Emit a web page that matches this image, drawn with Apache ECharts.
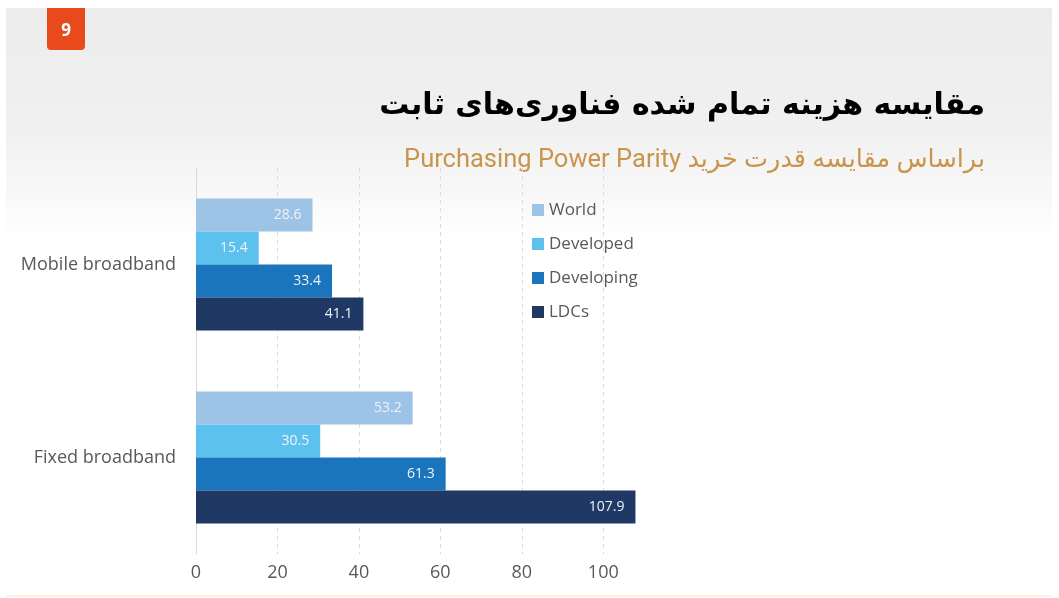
<!DOCTYPE html>
<html>
<head>
<meta charset="utf-8">
<script src="https://cdn.jsdelivr.net/npm/echarts@6/dist/echarts.min.js"></script>
<style>
  html, body { margin: 0; padding: 0; background: #ffffff; }
  #chart { width: 1059px; height: 598px; }
</style>
</head>
<body>
<div id="chart"></div>
<script>
// Cost of broadband, PPP-based comparison
const categories = ['Fixed broadband', 'Mobile broadband'];      // bottom to top
const seriesNames = ['World', 'Developed', 'Developing', 'LDCs'];
const worldValues      = [53.2, 28.6];
const developedValues  = [30.5, 15.4];
const developingValues = [61.3, 33.4];
const ldcValues        = [107.9, 41.1];
const xTicks = [0, 20, 40, 60, 80, 100];

const titleText = 'مقایسه هزینه تمام شده فناوری‌های ثابت';
const subtitleText = 'Purchasing Power Parity براساس مقایسه قدرت خرید';
const pageNumber = '9';

const colors = ['#9DC3E6', '#5DC1EE', '#1B75BC', '#1F3864'];
const valuesBySeries = [worldValues, developedValues, developingValues, ldcValues];

const chart = echarts.init(document.getElementById('chart'), null, { renderer: 'canvas' });

const latin = '"Open Sans", "Liberation Sans", sans-serif';
const persian = '"DejaVu Sans", "Noto Sans", sans-serif';
const subFont = 'Roboto, "DejaVu Sans", sans-serif';

const series = seriesNames.map((name, i) => ({
  name,
  type: 'bar',
  data: valuesBySeries[i],
  barWidth: 33,
  barGap: '0%',
  itemStyle: { color: colors[i] },
  label: {
    show: true,
    position: 'insideRight',
    distance: 11,
    color: '#EEF3FA',
    fontSize: 14,
    fontFamily: latin
  }
}));

chart.setOption({
  backgroundColor: '#ffffff',
  animation: false,
  graphic: [
    {
      type: 'rect',
      z: -10,
      shape: { x: 6, y: 8, width: 1046, height: 232 },
      style: {
        fill: new echarts.graphic.LinearGradient(0, 0, 0, 1, [
          { offset: 0, color: '#ECECEC' },
          { offset: 0.5, color: '#F0F0F0' },
          { offset: 0.8, color: '#F8F8F8' },
          { offset: 1, color: '#FFFFFF' }
        ])
      }
    },
    {
      type: 'rect',
      z: -9,
      shape: { x: 6, y: 595, width: 1045, height: 2 },
      style: { fill: '#FFF1DE' }
    },
    {
      type: 'rect',
      shape: { x: 47, y: 8, width: 38, height: 42, r: [0, 0, 4, 4] },
      style: { fill: '#E84A1B' }
    },
    {
      type: 'text',
      x: 66, y: 31,
      style: {
        text: pageNumber, fill: '#ffffff', fontSize: 17, fontWeight: 'bold',
        fontFamily: latin, align: 'center', verticalAlign: 'middle'
      }
    },
    {
      type: 'text',
      x: 985, y: 106,
      style: {
        text: titleText, fill: '#000000', fontSize: 30, fontWeight: 'bold',
        fontFamily: persian, align: 'right', verticalAlign: 'middle'
      }
    },
    {
      type: 'text',
      x: 985, y: 161,
      style: {
        text: subtitleText, fill: '#C9954C', fontSize: 25.5,
        fontFamily: subFont, align: 'right', verticalAlign: 'middle'
      }
    }
  ],
  legend: {
    orient: 'vertical',
    left: 527,
    top: 196,
    itemWidth: 12,
    itemHeight: 12,
    itemGap: 16,
    itemStyle: { borderWidth: 0 },
    icon: 'rect',
    data: seriesNames,
    textStyle: { color: '#595959', fontSize: 17, fontFamily: latin, lineHeight: 18 }
  },
  grid: { left: 196, right: 415, top: 168, bottom: 44, containLabel: false },
  xAxis: {
    type: 'value',
    min: 0,
    max: 110,
    interval: 20,
    axisLine: { show: false },
    axisTick: { show: false },
    axisLabel: {
      color: '#595959', fontSize: 18, fontFamily: latin, margin: 10,
      showMaxLabel: false,
      formatter: v => (xTicks.indexOf(v) >= 0 ? String(v) : '')
    },
    splitLine: {
      show: true,
      showMaxLine: false,
      lineStyle: { color: '#DCDCDC', type: [4, 4], width: 1 }
    }
  },
  yAxis: {
    type: 'category',
    data: categories,
    axisLine: { show: true, lineStyle: { color: '#D9D9D9' } },
    axisTick: { show: false },
    axisLabel: { color: '#595959', fontSize: 18, fontFamily: latin, margin: 20 }
  },
  series
});
</script>
</body>
</html>
